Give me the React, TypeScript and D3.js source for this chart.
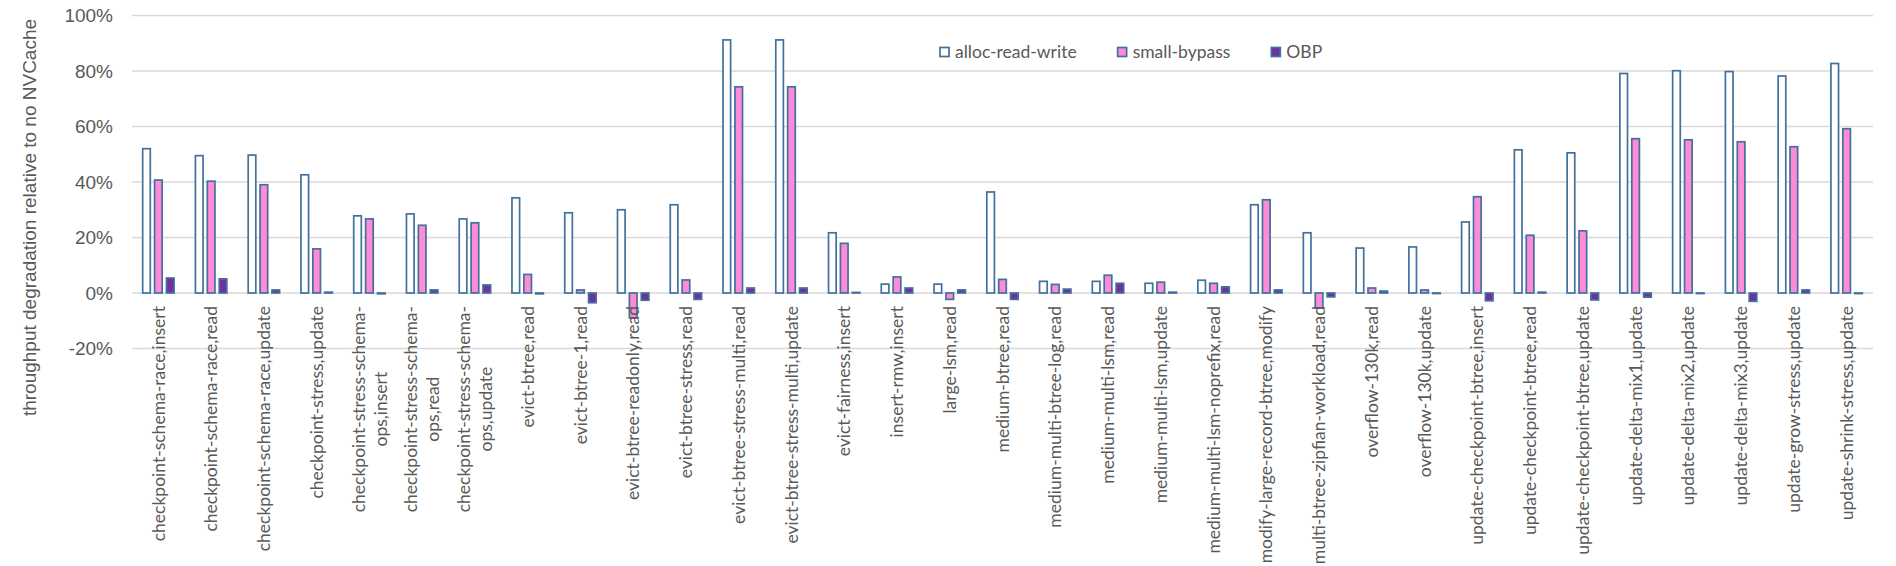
import React, { useEffect, useRef } from 'react';
import * as d3 from 'd3';

// benchmark,operation labels (\n = where the axis label wraps)
const categories = [
  'checkpoint-schema-race,insert',
  'checkpoint-schema-race,read',
  'checkpoint-schema-race,update',
  'checkpoint-stress,update',
  'checkpoint-stress-schema-\nops,insert',
  'checkpoint-stress-schema-\nops,read',
  'checkpoint-stress-schema-\nops,update',
  'evict-btree,read',
  'evict-btree-1,read',
  'evict-btree-readonly,read',
  'evict-btree-stress,read',
  'evict-btree-stress-multi,read',
  'evict-btree-stress-multi,update',
  'evict-fairness,insert',
  'insert-rmw,insert',
  'large-lsm,read',
  'medium-btree,read',
  'medium-multi-btree-log,read',
  'medium-multi-lsm,read',
  'medium-multi-lsm,update',
  'medium-multi-lsm-noprefix,read',
  'modify-large-record-btree,modify',
  'multi-btree-zipfian-workload,read',
  'overflow-130k,read',
  'overflow-130k,update',
  'update-checkpoint-btree,insert',
  'update-checkpoint-btree,read',
  'update-checkpoint-btree,update',
  'update-delta-mix1,update',
  'update-delta-mix2,update',
  'update-delta-mix3,update',
  'update-grow-stress,update',
  'update-shrink-stress,update',
];

const seriesNames = ['alloc-read-write', 'small-bypass', 'OBP'];

// % throughput degradation
const allocReadWrite = [
  52, 49.5, 49.7, 42.6, 27.8, 28.5, 26.7, 34.3, 28.9, 30, 31.8, 91.2, 91.2, 21.7, 3.2, 3.2, 36.4,
  4.2, 4.2, 3.5, 4.6, 31.8, 21.7, 16.2, 16.6, 25.6, 51.6, 50.5, 79.1, 80.1, 79.8, 78.2, 82.7,
];
const smallBypass = [
  40.7, 40.3, 39, 15.9, 26.7, 24.4, 25.3, 6.7, 1.1, -9, 4.7, 74.3, 74.3, 17.9, 5.8, -2.3, 4.9,
  3.1, 6.4, 3.9, 3.5, 33.6, -5.4, 1.8, 1.1, 34.7, 20.8, 22.4, 55.6, 55.2, 54.5, 52.7, 59.2,
];
const obp = [
  5.4, 5.1, 1.1, 0.3, -0.3, 1.1, 2.9, -0.3, -3.5, -2.6, -2.3, 1.8, 1.8, 0.2, 1.8, 1.1, -2.3,
  1.4, 3.5, 0.3, 2.2, 1.1, -1.4, 0.7, -0.2, -2.8, 0.3, -2.5, -1.5, -0.2, -3, 1.1, -0.2,
];

const yTicks = [-20, 0, 20, 40, 60, 80, 100];

const fills = ['#ffffff', '#ff8ad8', '#7030a0'];
const outline = '#41719c';
const textColor = '#595959';

export default function App() {
  const svgRef = useRef<SVGSVGElement>(null);

  useEffect(() => {
    if (!svgRef.current) return;
    document.body.style.margin = '0';

    const svg = d3.select(svgRef.current);
    svg.selectAll('*').remove();

    const x = d3.scaleBand().domain(categories).range([132, 1873]).padding(0);
    const x1 = d3.scaleBand().domain(seriesNames).range([-15.7, 15.7]).paddingInner(0.36);
    const y = d3.scaleLinear().domain([-20, 100]).range([348.5, 15.5]);

    // gridlines
    svg.append('g')
      .selectAll('line')
      .data(yTicks)
      .enter()
      .append('line')
      .attr('x1', 132)
      .attr('x2', 1873)
      .attr('y1', (d) => y(d))
      .attr('y2', (d) => y(d))
      .attr('stroke', '#d9d9d9')
      .attr('stroke-width', 1.5);

    // y tick labels
    svg.append('g')
      .selectAll('text')
      .data(yTicks)
      .enter()
      .append('text')
      .attr('x', 113)
      .attr('y', (d) => y(d))
      .attr('dy', '0.35em')
      .attr('text-anchor', 'end')
      .attr('fill', textColor)
      .style('font-family', '"Liberation Sans", Arial, sans-serif')
      .style('font-size', '19px')
      .text((d) => `${d}%`);

    // y axis title
    svg.append('text')
      .attr('transform', 'translate(29,217.5) rotate(-90)')
      .attr('dy', '0.35em')
      .attr('text-anchor', 'middle')
      .attr('fill', textColor)
      .style('font-family', '"Liberation Sans", Arial, sans-serif')
      .style('font-size', '19px')
      .text('throughput degradation relative to no NVCache');

    // bars
    const values = [allocReadWrite, smallBypass, obp];
    values.forEach((vals, si) => {
      svg.append('g')
        .selectAll('rect')
        .data(vals)
        .enter()
        .append('rect')
        .attr('x', (d, i) => x(categories[i])! + x.bandwidth() / 2 + x1(seriesNames[si])!)
        .attr('y', (d) => y(Math.max(0, d)))
        .attr('width', x1.bandwidth())
        .attr('height', (d) => Math.abs(y(d) - y(0)))
        .attr('fill', fills[si])
        .attr('stroke', outline)
        .attr('stroke-width', 1.7);
    });

    // category labels
    const labelFont = 'Lato, "Open Sans", sans-serif';
    const labelSize = '17.5px';
    const labelTop = 306;
    const lineH = 22;
    categories.forEach((cat) => {
      const cx = x(cat)! + x.bandwidth() / 2;
      const lines = cat.split('\n');
      const g = svg.append('g').attr('transform', `translate(${cx},${labelTop}) rotate(-90)`);
      if (lines.length === 1) {
        g.append('text')
          .attr('dy', '0.35em')
          .attr('text-anchor', 'end')
          .attr('fill', textColor)
          .style('font-family', labelFont)
          .style('font-size', labelSize)
          .text(lines[0]);
      } else {
        const first = g.append('text')
          .attr('y', -lineH / 2)
          .attr('dy', '0.35em')
          .attr('text-anchor', 'end')
          .attr('fill', textColor)
          .style('font-family', labelFont)
          .style('font-size', labelSize)
          .text(lines[0]);
        const len = (first.node() as SVGTextElement).getComputedTextLength();
        g.append('text')
          .attr('x', -len / 2)
          .attr('y', lineH / 2)
          .attr('dy', '0.35em')
          .attr('text-anchor', 'middle')
          .attr('fill', textColor)
          .style('font-family', labelFont)
          .style('font-size', labelSize)
          .text(lines[1]);
      }
    });

    // legend
    let lx = 940;
    const ly = 52;
    seriesNames.forEach((name, si) => {
      svg.append('rect')
        .attr('x', lx)
        .attr('y', ly - 4.5)
        .attr('width', 9)
        .attr('height', 9)
        .attr('fill', fills[si])
        .attr('stroke', outline)
        .attr('stroke-width', 1.7);
      const t = svg.append('text')
        .attr('x', lx + 15)
        .attr('y', ly)
        .attr('dy', '0.35em')
        .attr('fill', textColor)
        .style('font-family', labelFont)
        .style('font-size', labelSize)
        .text(name);
      const w = (t.node() as SVGTextElement).getComputedTextLength();
      lx += 15 + w + 41;
    });
  }, []);

  return <svg ref={svgRef} width={1896} height={566} style={{ display: 'block' }} />;
}
